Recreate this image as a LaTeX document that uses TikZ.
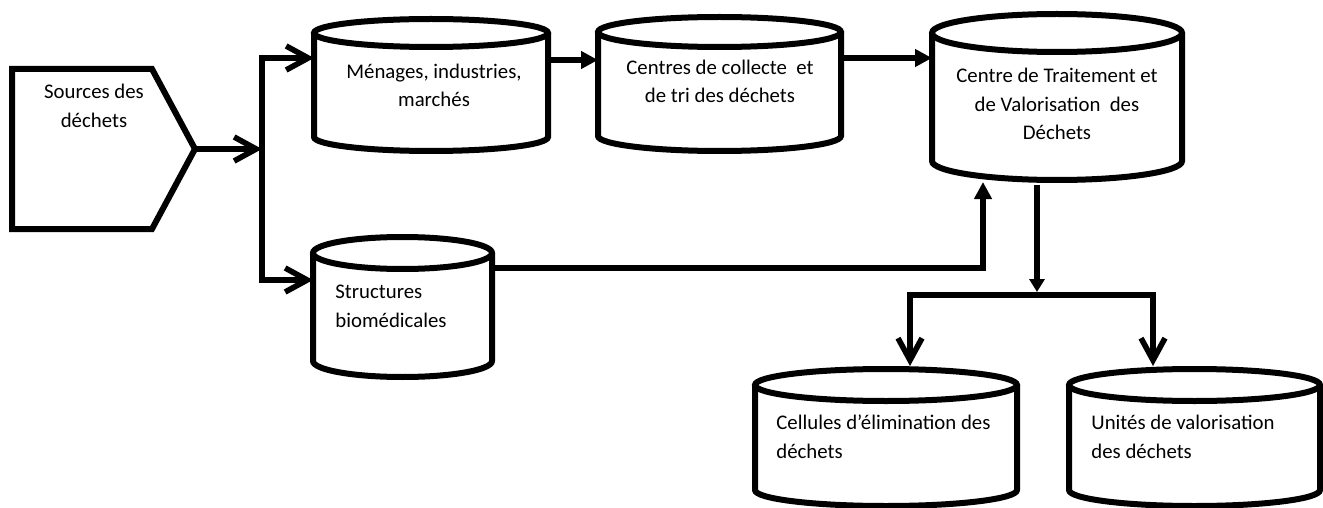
\documentclass[tikz,border=0pt]{standalone}
\usepackage{fontspec}
\setmainfont{Carlito}
\usetikzlibrary{arrows.meta}
\newcommand\mycyl[6]{% name, x1, ytop, x2, ybot, ry
  \path[shapeline,fill=white] (#2,#3+#6) -- (#2,#5-#6)
     arc[start angle=180,end angle=0,x radius={(#4-#2)/2},y radius=#6] -- (#4,#3+#6);
  \draw[shapeline,fill=white] ({(#2+#4)/2},#3+#6) ellipse[x radius={(#4-#2)/2}, y radius=#6];
  \node[inner sep=0pt,anchor=north west,minimum width={(#4-#2)*0.5pt},minimum height={(#5-#3)*0.5pt}] (#1) at (#2,#3) {};
}
\begin{document}
\begin{tikzpicture}[x=0.5pt,y=-0.5pt,
  shapeline/.style={draw=black,line width=3pt,line join=miter},
  conn/.style={draw=black,line width=2.8pt},
  lbl/.style={inner sep=0pt,font=\fontsize{10.4}{14.3}\selectfont,anchor=base},
  openarr/.style={conn,-{Straight Barb[length=11pt,width=12pt,line width=2.8pt]}},
  triarr/.style={conn,-{Triangle[length=8.5pt,width=8.5pt]}},
  smalltri/.style={conn,-{Triangle[length=6.5pt,width=7.5pt]}}]
\useasboundingbox (0,0) rectangle (1323,508);

% source pentagon
\draw[shapeline] (12,69) -- (152,69) -- (195,149) -- (152,229) -- (12,229) -- cycle;
\coordinate (srctip) at (195,149);
\node[lbl,align=center] (srclbl) at (94,127) {Sources des\\déchets};

% cylinders
\mycyl{c1}{314}{19}{548}{151}{14}
\mycyl{c2}{598}{17}{841}{151}{15}
\mycyl{c3}{932}{14}{1182}{180}{19}
\mycyl{c4}{313}{237}{492}{377}{16}
\mycyl{c5}{755}{369}{1017}{506}{16}
\mycyl{c6}{1069}{369}{1320}{506}{16}

\node[lbl,align=center] (t1) at (434,107) {Ménages, industries,\\marchés};
\node[lbl,align=center] (t2) at (720,103) {Centres de collecte\ \ et\\de tri des déchets};
\node[lbl,align=center] (t3) at (1057,140) {Centre de Traitement et\\de Valorisation\ \ des\\Déchets};
\node[lbl,align=left,anchor=base west] (t4) at (335,327) {Structures\\biomédicales};
\node[lbl,align=left,anchor=base west] (t5) at (776,458) {Cellules d’élimination des\\déchets};
\node[lbl,align=left,anchor=base west] (t6) at (1091,458) {Unités de valorisation\\des déchets};

% connectors
\coordinate (sp) at (262,58);
\coordinate (sb) at (262,280);
\draw[openarr] (srctip) -- (srctip -| sp);
\draw[openarr] (sb) -- (sp) -- (sp -| c1.west);
\draw[openarr] (sp) -- (sb) -- (sb -| c4.west);
\coordinate (y60) at (0,60);
\coordinate (y58) at (0,58);
\draw[triarr] (c1.east |- y60) -- (c2.west |- y60);
\draw[triarr] (c2.east |- y58) -- (c3.west |- y58);
\coordinate (bioturn) at (983,268);
\coordinate (c3in) at (983,182);
\draw[triarr] (c4.east |- bioturn) -- (bioturn) -- (c3in);
\coordinate (c3out) at (1037,185);
\coordinate (split) at (1037,292);
\draw[smalltri] (c3out) -- (split);
\coordinate (sl) at (910,295);
\coordinate (sr) at (1153,295);
\coordinate (c5in) at (910,366);
\coordinate (c6in) at (1153,366);
\draw[conn,line cap=rect] (sl) -- (sr);
\draw[openarr] (sl) -- (c5in);
\draw[openarr] (sr) -- (c6in);
\end{tikzpicture}
\end{document}
